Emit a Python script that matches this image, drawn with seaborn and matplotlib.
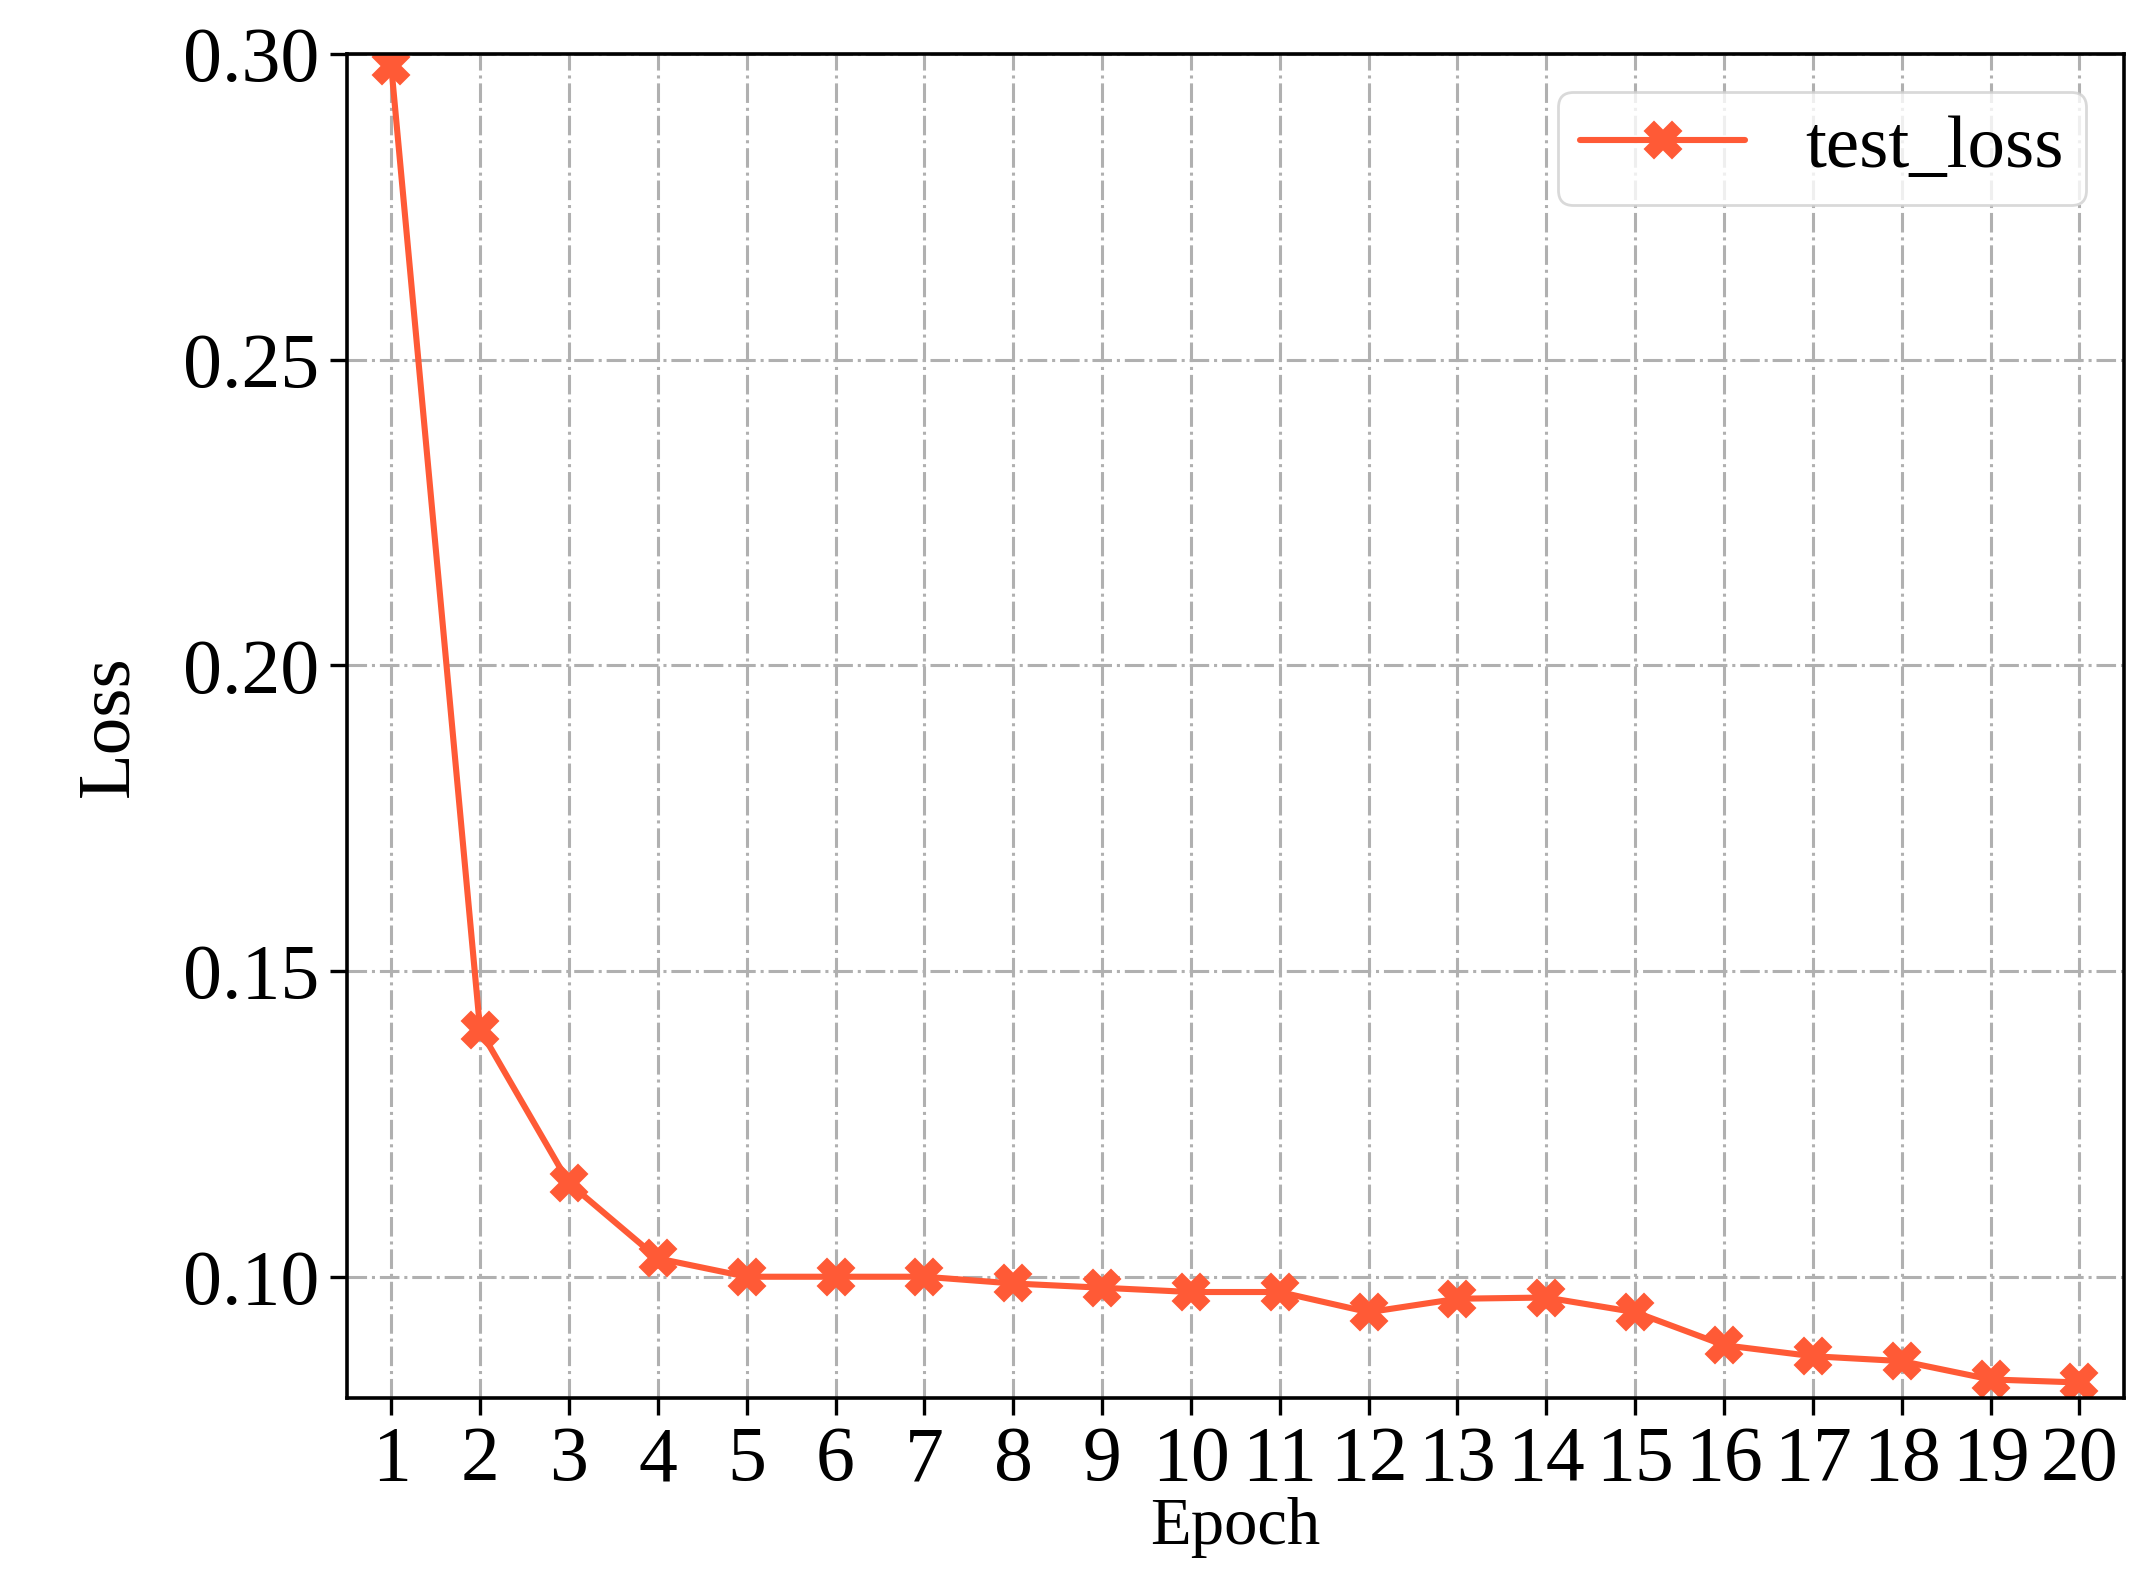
import numpy as np
import pandas as pd
import matplotlib
matplotlib.use("Agg")
import matplotlib.pyplot as plt
import seaborn as sns

# Data
epochs = list(range(1, 21))
test_loss = [0.298, 0.1404, 0.1153, 0.1030, 0.1000, 0.1000, 0.1000, 0.0989, 0.0982, 0.0975,
             0.0975, 0.0942, 0.0964, 0.0966, 0.0942, 0.0888, 0.0870, 0.0862, 0.0832, 0.0827]

df = pd.DataFrame({'Epoch': epochs, 'test_loss': test_loss})

sns.set_style('ticks')
plt.rcParams['font.family'] = ['Liberation Serif', 'DejaVu Serif']
plt.rcParams['text.color'] = 'black'
plt.rcParams['axes.labelcolor'] = 'black'
plt.rcParams['xtick.color'] = 'black'
plt.rcParams['ytick.color'] = 'black'

fig = plt.figure(figsize=(10.705, 7.96), dpi=200)
ax = fig.add_axes([0.162, 0.122, 0.830, 0.844])

color = '#FF5A36'
sns.lineplot(data=df, x='Epoch', y='test_loss', ax=ax, color=color, linewidth=2.2,
             marker='X', markersize=13, markeredgecolor=color, label='test_loss')

ax.set_xlim(0.5, 20.5)
ax.set_ylim(0.0802, 0.30)
ax.set_xticks(epochs)
ax.set_yticks([0.10, 0.15, 0.20, 0.25, 0.30])
ax.set_yticklabels(['0.10', '0.15', '0.20', '0.25', '0.30'])
ax.tick_params(labelsize=28, direction='out', length=6, width=1.2, pad=4)
ax.grid(True, linestyle='-.', color='#b0b0b0', linewidth=1.1)
ax.set_xlabel('Epoch', fontsize=24, labelpad=0)
ax.set_ylabel('Loss', fontsize=27, labelpad=14)
for s in ax.spines.values():
    s.set_linewidth(1.3)
    s.set_color('black')

leg = ax.legend(loc='upper right', fontsize=27, frameon=True, fancybox=True,
                handlelength=2.2, borderpad=0.3)
leg.get_frame().set_edgecolor('#d0d0d0')

fig.savefig('out.png', dpi=200)
